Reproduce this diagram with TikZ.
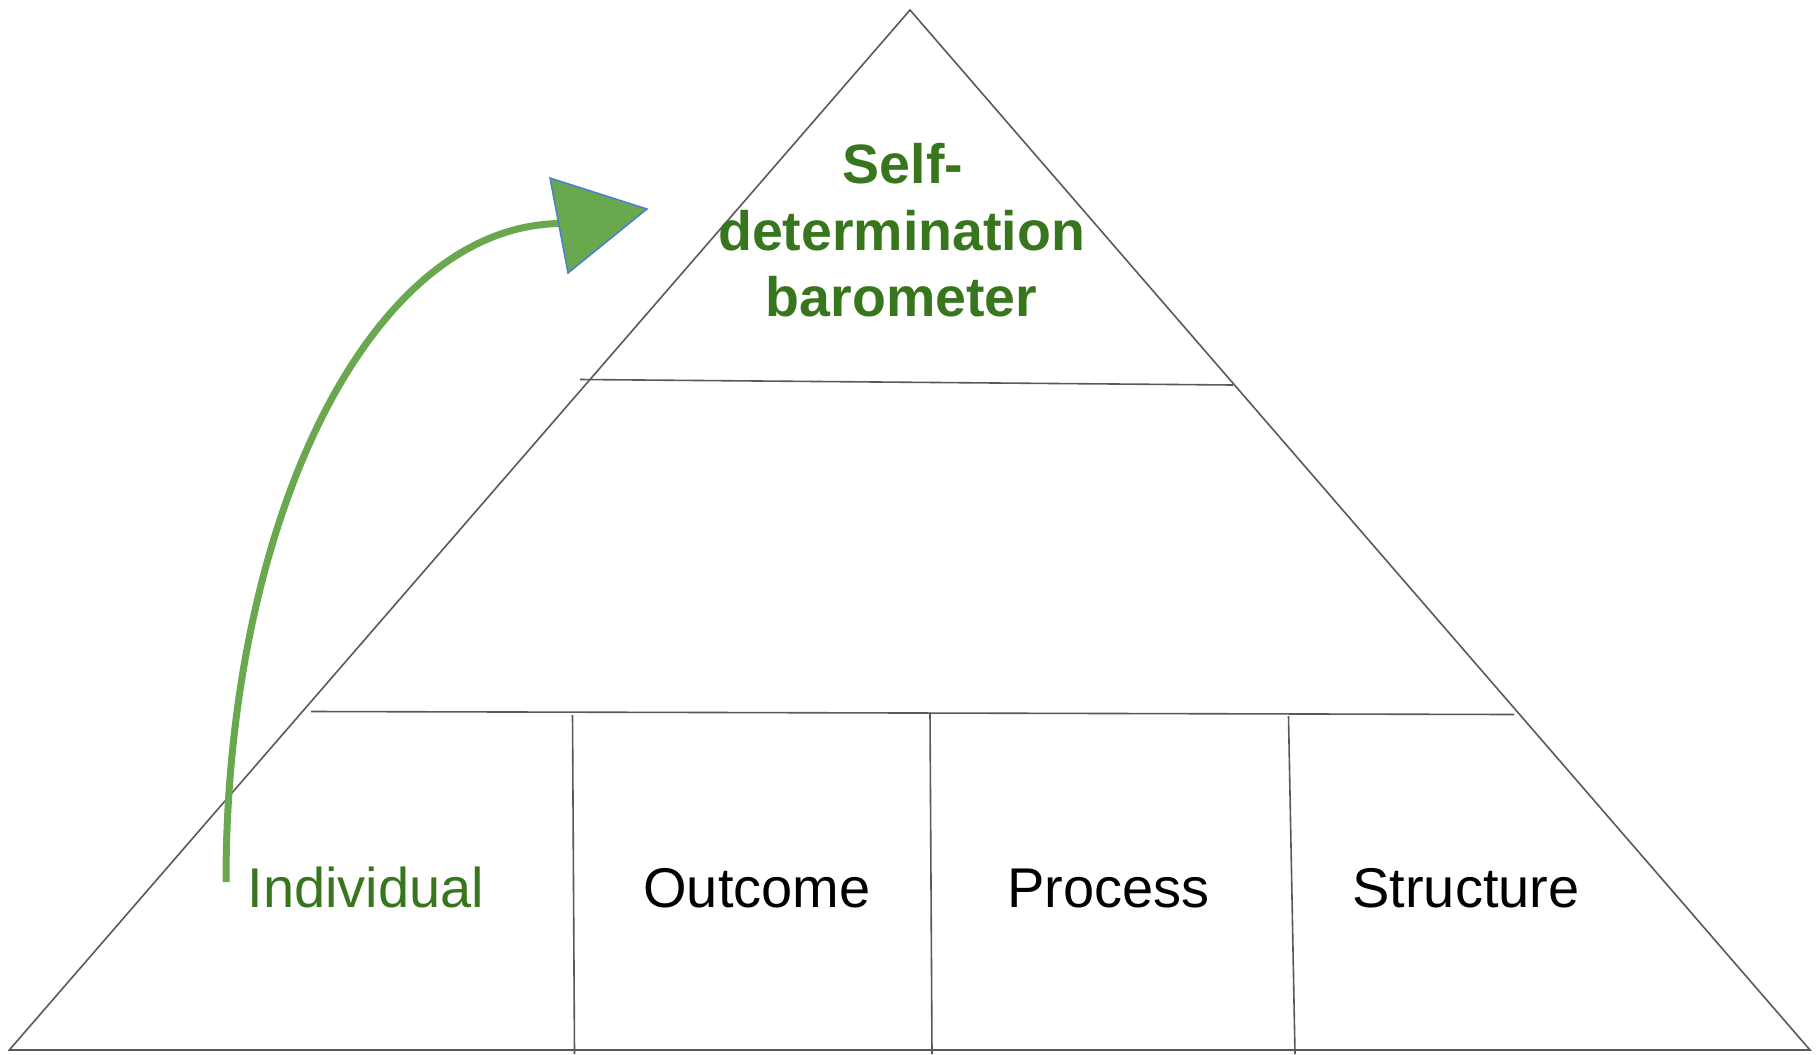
\documentclass[tikz,border=0pt]{standalone}
\usepackage{fontspec}
\setmainfont{Liberation Sans}
\definecolor{linegray}{HTML}{595959}
\definecolor{textgreen}{HTML}{38761D}
\definecolor{curvegreen}{HTML}{6AA84F}
\definecolor{headblue}{HTML}{4A7FD8}
\begin{document}
\begin{tikzpicture}[x=1bp,y=-1bp,
  frame/.style={draw=linegray,line width=1.6bp},
  label/.style={inner sep=0pt,anchor=base,font=\fontsize{56bp}{67bp}\selectfont},
  toplabel/.style={label,text=textgreen,font=\bfseries\fontsize{55.5bp}{66.7bp}\selectfont},
  arrowline/.style={draw=curvegreen,line width=7bp},
  arrowhead/.style={fill=curvegreen,draw=headblue,line width=1.5bp,line join=miter}]
\useasboundingbox (0,0) rectangle (1820,1054);
% pyramid
\coordinate (apex) at (910,10);
\coordinate (bl) at (9.3,1050);
\coordinate (br) at (1810,1050);
\draw[frame] (bl) -- (apex) -- (br) -- cycle;
% horizontal dividers
\coordinate (u1) at (580,379.5);
\coordinate (u2) at (1233,385);
\draw[frame] (u1) -- (u2);
\coordinate (l1) at (311,711.5);
\coordinate (l2) at (1514,714.5);
\draw[frame] (l1) -- (l2);
% vertical dividers
\coordinate (v1t) at (572.5,715);
\coordinate (v1b) at (574.5,1054);
\coordinate (v2t) at (930,712.5);
\coordinate (v2b) at (932,1054);
\coordinate (v3t) at (1288.5,716);
\coordinate (v3b) at (1295,1054);
\draw[frame] (v1t) -- (v1b);
\draw[frame] (v2t) -- (v2b);
\draw[frame] (v3t) -- (v3b);
% top text
\node[toplabel] (t1) at (903,183.3) {Self-};
\node[toplabel] (t2) at (901.7,250) {determination};
\node[toplabel] (t3) at (901.7,316.7) {barometer};
% bottom labels
\node[label,text=textgreen] (ind) at (366,907.7) {Individual};
\node[label] (out) at (757,907.7) {Outcome};
\node[label] (proc) at (1108.5,907.7) {Process};
\node[label] (str) at (1466,907.7) {Structure};
% curved arrow
\coordinate (cs) at (226,882);
\coordinate (ce) at (562,223.5);
\draw[arrowline] (cs) .. controls (226,520) and (370,224) .. (ce);
\coordinate (h1) at (550,178);
\coordinate (h2) at (647,209);
\coordinate (h3) at (568,273);
\draw[arrowhead] (h1) -- (h2) -- (h3) -- cycle;
\end{tikzpicture}
\end{document}
